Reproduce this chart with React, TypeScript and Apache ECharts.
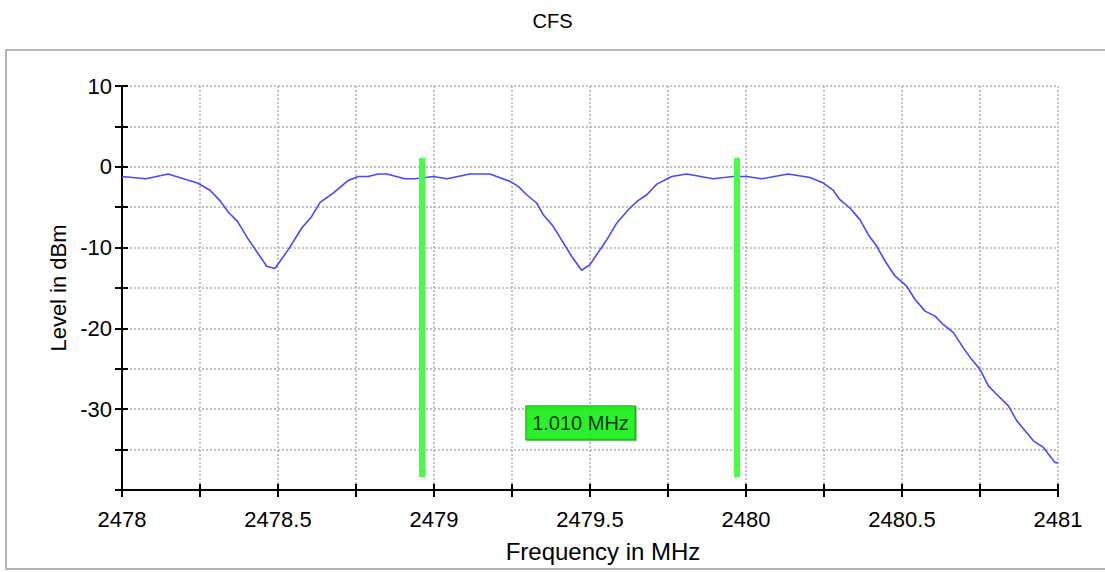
import React, { useEffect, useRef } from "react";
import * as echarts from "echarts";

const titleText = "CFS";
const xName = "Frequency in MHz";
const yName = "Level in dBm";

const freqMHz = [
  2478.0, 2478.077, 2478.148, 2478.207, 2478.242, 2478.282, 2478.316, 2478.341, 2478.37, 2478.402,
  2478.464, 2478.49, 2478.533, 2478.576, 2478.608, 2478.635, 2478.677, 2478.725, 2478.757, 2478.789,
  2478.821, 2478.848, 2478.907, 2478.939, 2478.998, 2479.042, 2479.115, 2479.179, 2479.244, 2479.27,
  2479.297, 2479.329, 2479.35, 2479.382, 2479.441, 2479.473, 2479.5, 2479.554, 2479.586, 2479.628,
  2479.655, 2479.682, 2479.714, 2479.762, 2479.81, 2479.895, 2479.959, 2480.002, 2480.05, 2480.135,
  2480.205, 2480.248, 2480.28, 2480.301, 2480.333, 2480.365, 2480.392, 2480.419, 2480.446, 2480.478,
  2480.515, 2480.542, 2480.574, 2480.606, 2480.632, 2480.665, 2480.696, 2480.723, 2480.75, 2480.777,
  2480.803, 2480.841, 2480.868, 2480.921, 2480.953, 2480.99, 2481.0,
];
const levelDbm = [
  -1.2, -1.48, -0.9, -1.6, -2.01, -2.9, -4.28, -5.62, -6.75, -8.8,
  -12.31, -12.59, -10.25, -7.57, -6.14, -4.41, -3.25, -1.69, -1.2, -1.2,
  -0.9, -0.9, -1.48, -1.48, -1.2, -1.48, -0.9, -0.9, -1.81, -2.43,
  -3.46, -4.48, -5.93, -7.37, -11.07, -12.8, -12.1, -9.01, -6.95, -5.1,
  -4.16, -3.46, -2.14, -1.2, -0.9, -1.48, -1.2, -1.2, -1.48, -0.9,
  -1.32, -2.01, -2.93, -4.07, -5.1, -6.54, -8.4, -9.84, -11.69, -13.54,
  -14.78, -16.42, -17.86, -18.48, -19.51, -20.53, -22.38, -23.83, -25.06, -27.12,
  -28.15, -29.59, -31.44, -33.91, -34.73, -36.58, -36.67,
];

// markers (MHz) and their vertical extent (dBm)
const markerFreqs = [2478.9615, 2479.9712];
const markerSpan = [1.1, -38.4];
const deltaLabel = "1.010 MHz";
const deltaLabelPos = [2479.4696, -31.67];

const xMin = 2478, xMax = 2481, xStep = 0.25;
const yMin = -40, yMax = 10, yStep = 5;

const FONT = "'Liberation Sans', Arial, sans-serif";

export default function App() {
  const ref = useRef<HTMLDivElement>(null);
  useEffect(() => {
    if (!ref.current) return;
    const chart = echarts.init(ref.current, undefined, { renderer: "svg" });
    const traceData = freqMHz.map((f, i) => [f, levelDbm[i]]);
    const markerSeries = markerFreqs.map((f) => ({
      type: "line",
      data: [[f, markerSpan[0]], [f, markerSpan[1]]],
      showSymbol: false,
      symbol: "none",
      lineStyle: { color: "#46ff46", width: 6, cap: "butt" },
      silent: true,
      z: 5,
    }));
    const xLabelFmt = (v: number) =>
      Math.abs(v * 2 - Math.round(v * 2)) < 1e-6 ? String(Math.round(v * 2) / 2) : "";
    const yLabelFmt = (v: number) => (v % 10 === 0 && v !== yMin ? String(v) : "");
    const option: any = {
      animation: false,
      backgroundColor: "#ffffff",
      title: {
        text: titleText,
        left: "center",
        top: 6,
        textStyle: { fontFamily: FONT, fontSize: 20, fontWeight: "normal", color: "#000" },
      },
      graphic: [
        {
          type: "rect",
          shape: { x: 6, y: 50, width: 1100, height: 519 },
          style: { fill: "none", stroke: "#b4b4b4", lineWidth: 2 },
          silent: true,
          z: -1,
        },
      ],
      grid: { left: 122, top: 86, width: 936, height: 404, containLabel: false },
      xAxis: [
        {
          type: "value",
          min: xMin,
          max: xMax,
          interval: xStep,
          name: xName,
          nameLocation: "middle",
          nameGap: 49,
          nameTextStyle: { fontFamily: FONT, fontSize: 24, color: "#000", padding: [0, 0, 0, 26] },
          axisLine: { show: true, onZero: false, lineStyle: { color: "#000", width: 2 } },
          axisTick: { show: true, inside: false, length: 7, lineStyle: { color: "#000", width: 2 } },
          axisLabel: { formatter: xLabelFmt, margin: 18, fontFamily: FONT, fontSize: 22, color: "#000" },
          splitLine: { show: true, lineStyle: { color: "#b0b0b0", type: [2, 2], width: 1.5 } },
        },
        {
          type: "value",
          min: xMin,
          max: xMax,
          interval: xStep,
          position: "bottom",
          axisLine: { show: false, onZero: false },
          axisTick: { show: true, inside: true, length: 6, lineStyle: { color: "#000", width: 2 } },
          axisLabel: { show: false },
          splitLine: { show: false },
        },
      ],
      yAxis: [
        {
          type: "value",
          min: yMin,
          max: yMax,
          interval: yStep,
          name: yName,
          nameLocation: "middle",
          nameGap: 52,
          nameRotate: 90,
          nameTextStyle: { fontFamily: FONT, fontSize: 22, color: "#000" },
          axisLine: { show: true, onZero: false, lineStyle: { color: "#000", width: 2 } },
          axisTick: { show: true, inside: false, length: 7, lineStyle: { color: "#000", width: 2 } },
          axisLabel: { formatter: yLabelFmt, margin: 10, fontFamily: FONT, fontSize: 22, color: "#000" },
          splitLine: { show: true, lineStyle: { color: "#b0b0b0", type: [2, 2], width: 1.5 } },
        },
        {
          type: "value",
          min: yMin,
          max: yMax,
          interval: yStep,
          position: "left",
          axisLine: { show: false, onZero: false },
          axisTick: { show: true, inside: true, length: 6, lineStyle: { color: "#000", width: 2 } },
          axisLabel: { show: false },
          splitLine: { show: false },
        },
      ],
      series: [
        {
          type: "line",
          data: traceData,
          showSymbol: false,
          symbol: "none",
          lineStyle: { color: "#4848ff", width: 1.6 },
          z: 3,
        },
        ...markerSeries,
        {
          type: "scatter",
          data: [deltaLabelPos],
          symbolSize: 1,
          itemStyle: { color: "transparent" },
          z: 6,
          label: {
            show: true,
            position: "inside",
            formatter: deltaLabel,
            fontFamily: FONT,
            fontSize: 20,
            color: "#000",
            backgroundColor: "#10f810",
            borderColor: "#0aa80a",
            borderWidth: 1,
            padding: [6, 6, 6, 6],
            lineHeight: 21,
            shadowColor: "rgba(0,80,0,0.5)",
            shadowOffsetX: 1,
            shadowOffsetY: 1,
            shadowBlur: 0,
          },
        },
      ],
    };
    chart.setOption(option);
    return () => chart.dispose();
  }, []);
  return (
    <div
      ref={ref}
      style={{ position: "fixed", left: 0, top: 0, width: 1105, height: 572, background: "#fff" }}
    />
  );
}
